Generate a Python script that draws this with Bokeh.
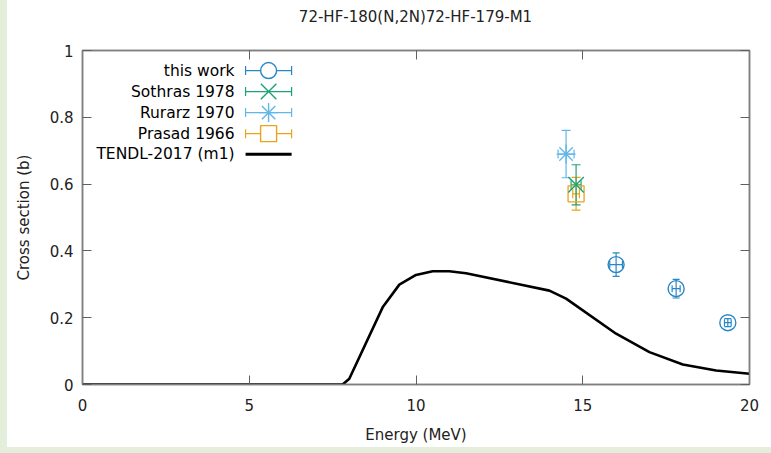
from bokeh.plotting import figure
from bokeh.models import (Range1d, FixedTicker, LinearAxis, Whisker, TeeHead,
                          ColumnDataSource, Spacer, Div)
from bokeh.layouts import row, column
from bokeh.core.properties import value
from bokeh.embed import file_html
from bokeh.resources import INLINE

# ---------------- data ----------------
tendl_E = [0.0, 7.8, 8.0, 9.0, 9.5, 10.0, 10.5, 11.0, 11.5, 14.0, 14.5, 16.0, 17.0, 18.0, 19.0, 20.0]
tendl_cs = [0.0, 0.0, 0.017, 0.231, 0.299, 0.328, 0.339, 0.339, 0.333, 0.281, 0.257, 0.152, 0.097, 0.060, 0.042, 0.032]

tw_E = [16.0, 17.8, 19.35]
tw_dE = [0.19, 0.12, 0.10]
tw_cs = [0.359, 0.287, 0.185]
tw_dcs = [0.035, 0.028, 0.012]

sothras_E = [14.8]
sothras_dE = [0.15]
sothras_cs = [0.598]
sothras_dcs = [0.060]

rurarz_E = [14.5]
rurarz_dE = [0.24]
rurarz_cs = [0.690]
rurarz_dcs = [0.071]

prasad_E = [14.8]
prasad_dE = [0.10]
prasad_cs = [0.571]
prasad_dcs = [0.049]

x_ticks = [0, 5, 10, 15, 20]
x_tick_labels = ["0", "5", "10", "15", "20"]
y_ticks = [0, 0.2, 0.4, 0.6, 0.8, 1.0]
y_tick_labels = ["0", "0.2", "0.4", "0.6", "0.8", "1"]

title_text = "72-HF-180(N,2N)72-HF-179-M1"
x_label = "Energy (MeV)"
y_label = "Cross section (b)"
legend_labels = ["this work", "Sothras 1978", "Rurarz 1970", "Prasad 1966", "TENDL-2017 (m1)"]

# ---------------- styles ----------------
FONT = "DejaVu Sans"
GREEN_BG = "#e3efda"
FRAME = "#7f7f7f"
C_TW = "#2a87c6"
C_SO = "#1fa373"
C_RU = "#62b6ea"
C_PR = "#eaa41c"
MK_SIZE = {"circle": 16, "square": 16, "x": 22, "asterisk": 19}

TITLE_H = 34
p = figure(width=764, height=447 - TITLE_H, output_backend="svg", toolbar_location=None,
           x_range=Range1d(0, 20), y_range=Range1d(0, 1),
           min_border_left=75, min_border_right=22, min_border_top=50 - TITLE_H,
           min_border_bottom=63)
p.grid.visible = False
p.background_fill_color = "white"
p.border_fill_color = "white"
p.outline_line_color = FRAME
p.outline_line_width = 1.5

title_div = Div(
    text=('<div style="height:%dpx;line-height:%dpx;white-space:nowrap;">'
          '<span style="position:relative;left:408.5px;display:inline-block;'
          'transform:translateX(-50%%);font-family:\'DejaVu Sans\';font-size:15px;'
          'color:#222222;">%s</span></div>') % (TITLE_H, TITLE_H, title_text),
    width=764, height=TITLE_H, margin=0, styles={"background-color": "white"})

def style_axis(ax, ticks, labels, show_labels=True):
    ax.ticker = FixedTicker(ticks=ticks)
    ax.major_label_overrides = {t: l for t, l in zip(ticks, labels)}
    ax.major_tick_in = 9
    ax.major_tick_out = 0
    ax.minor_tick_in = 0
    ax.minor_tick_out = 0
    ax.axis_line_color = FRAME
    ax.axis_line_width = 1.5
    ax.major_tick_line_color = "#606060"
    ax.major_tick_line_width = 1
    ax.major_label_text_font = FONT
    ax.major_label_text_font_size = "15px"
    ax.major_label_text_color = "#222222"
    if not show_labels:
        ax.major_label_text_alpha = 0
        ax.major_label_text_font_size = "1px"
        ax.major_label_standoff = 0

style_axis(p.xaxis[0], x_ticks, x_tick_labels)
style_axis(p.yaxis[0], y_ticks, y_tick_labels)
p.xaxis[0].major_label_standoff = 14
p.yaxis[0].major_label_standoff = 9
p.xaxis[0].axis_label = x_label
p.yaxis[0].axis_label = y_label
for ax in (p.xaxis[0], p.yaxis[0]):
    ax.axis_label_text_font = FONT
    ax.axis_label_text_font_size = "15px"
    ax.axis_label_text_font_style = "normal"
    ax.axis_label_text_color = "#222222"
p.xaxis[0].axis_label_standoff = 12
p.yaxis[0].axis_label_standoff = 14

top_ax = LinearAxis()
right_ax = LinearAxis()
style_axis(top_ax, x_ticks, x_tick_labels, show_labels=False)
style_axis(right_ax, y_ticks, y_tick_labels, show_labels=False)
p.add_layout(top_ax, "above")
p.add_layout(right_ax, "right")

# ---------------- TENDL curve ----------------
p.line(tendl_E, tendl_cs, line_color="black", line_width=2.6)

# ---------------- experimental data ----------------
def add_errors(E, dE, cs, dcs, color, cap=9):
    src = ColumnDataSource(dict(
        x=E, y=cs,
        xl=[a - b for a, b in zip(E, dE)], xu=[a + b for a, b in zip(E, dE)],
        yl=[a - b for a, b in zip(cs, dcs)], yu=[a + b for a, b in zip(cs, dcs)]))
    p.add_layout(Whisker(source=src, base="x", lower="yl", upper="yu", dimension="height",
                         line_color=color, line_width=1.2,
                         upper_head=TeeHead(size=cap, line_color=color, line_width=1.2),
                         lower_head=TeeHead(size=cap, line_color=color, line_width=1.2)))
    p.add_layout(Whisker(source=src, base="y", lower="xl", upper="xu", dimension="width",
                         line_color=color, line_width=1.2,
                         upper_head=TeeHead(size=cap, line_color=color, line_width=1.2),
                         lower_head=TeeHead(size=cap, line_color=color, line_width=1.2)))
    return src

add_errors(prasad_E, prasad_dE, prasad_cs, prasad_dcs, C_PR)
p.scatter(prasad_E, prasad_cs, marker="square", size=MK_SIZE["square"], fill_color=None,
          line_color=C_PR, line_width=1.3)
add_errors(sothras_E, sothras_dE, sothras_cs, sothras_dcs, C_SO)
p.scatter(sothras_E, sothras_cs, marker="x", size=MK_SIZE["x"], line_color=C_SO, line_width=1.4)
add_errors(rurarz_E, rurarz_dE, rurarz_cs, rurarz_dcs, C_RU)
p.scatter(rurarz_E, rurarz_cs, marker="asterisk", size=MK_SIZE["asterisk"], line_color=C_RU, line_width=1.3)
add_errors(tw_E, tw_dE, tw_cs, tw_dcs, C_TW, cap=7)
p.scatter(tw_E, tw_cs, marker="circle", size=MK_SIZE["circle"], fill_color=None,
          line_color=C_TW, line_width=1.4)

# ---------------- legend (label left, sample right, as in the original) ----------------
leg_text_x = 4.56
leg_sym_x = 5.58
leg_half = 0.69
leg_rows = [0.940, 0.877, 0.814, 0.751, 0.689]
leg_markers = ["circle", "x", "asterisk", "square", None]
leg_colors = [C_TW, C_SO, C_RU, C_PR, "black"]

p.text(x=[leg_text_x] * len(legend_labels), y=leg_rows, text=legend_labels,
       text_align="right", text_baseline="middle", text_font=value(FONT),
       text_font_size="15.5px", text_color="black")

for yv, mk, col in zip(leg_rows, leg_markers, leg_colors):
    if mk is None:
        p.segment(x0=[leg_sym_x - leg_half], y0=[yv], x1=[leg_sym_x + leg_half], y1=[yv],
                  line_color=col, line_width=3)
        continue
    src = ColumnDataSource(dict(y=[yv], xl=[leg_sym_x - leg_half], xu=[leg_sym_x + leg_half]))
    p.add_layout(Whisker(source=src, base="y", lower="xl", upper="xu", dimension="width",
                         line_color=col, line_width=1.2,
                         upper_head=TeeHead(size=9, line_color=col, line_width=1.2),
                         lower_head=TeeHead(size=9, line_color=col, line_width=1.2)))
    if mk in ("circle", "square"):
        p.scatter([leg_sym_x], [yv], marker=mk, size=MK_SIZE[mk], fill_color="white",
                  line_color=col, line_width=1.4)
    else:
        p.scatter([leg_sym_x], [yv], marker=mk, size=MK_SIZE[mk], line_color=col, line_width=1.4)

left_strip = Spacer(width=7, height=453, margin=0, styles={"background-color": GREEN_BG})
bottom_strip = Spacer(width=764, height=6, margin=0, styles={"background-color": GREEN_BG})
layout = row(left_strip, column(title_div, p, bottom_strip))

open("out.html", "w").write(file_html(layout, INLINE))
